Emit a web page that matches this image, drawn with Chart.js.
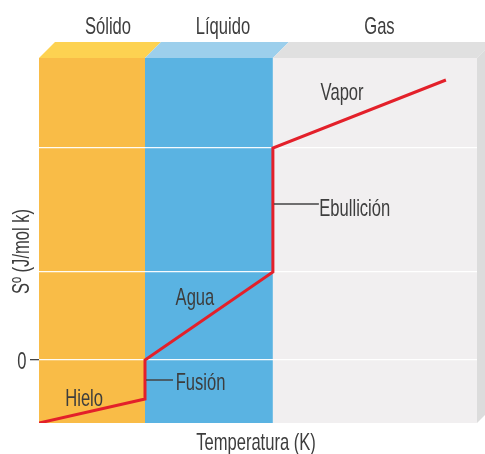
<!DOCTYPE html>
<html>
<head>
<meta charset="utf-8">
<script src="https://cdn.jsdelivr.net/npm/chart.js@4/dist/chart.umd.min.js"></script>
<style>
  body { margin: 0; background: #fff; }
  canvas { display: block; }
</style>
</head>
<body>
<canvas id="entropyChart" width="485" height="454"></canvas>
<script>
// fases y limites de temperatura (unidades arbitrarias)
const phaseNames = ["Sólido", "Líquido", "Gas"];
const phaseLimits = [0, 24.2, 53.4, 100];
const phaseFront = ["#F9BC47", "#5AB3E2", "#F1EFF0"];
const phaseTop = ["#FDD251", "#9CCFEC", "#E0E0E0"];

// curva de entropia
const curveT = [0, 24.2, 24.2, 53.4, 53.4, 92.9];
const curveS = [-63, -39, 0, 88, 212, 280];

// lineas de la reticula
const gridS = [0, 88, 212];

const FONT_SIZE = 24;
const FONT = FONT_SIZE + "px 'Liberation Sans', Arial, sans-serif";
const NARROW = 0.69;           // texto estrecho (condensado)
const CAP = 0.358 * FONT_SIZE; // mitad de la altura de mayusculas
const TEXT = "#3d3d3d";

// escribe texto condensado centrado verticalmente en y
function label(ctx, text, x, y, align) {
    ctx.save();
    ctx.translate(x, y + CAP);
    ctx.scale(NARROW, 1);
    ctx.font = FONT;
    ctx.fillStyle = TEXT;
    ctx.textAlign = align;
    ctx.textBaseline = "alphabetic";
    ctx.fillText(text, 0, 0);
    ctx.restore();
}

// bloques de fondo con efecto 3D
const bandsPlugin = {
    id: "bands",
    beforeDraw(chart) {
        const { ctx, chartArea: a, scales } = chart;
        const d = 16;
        ctx.save();
        for (let i = 0; i < phaseNames.length; i++) {
            const x0 = scales.x.getPixelForValue(phaseLimits[i]);
            const x1 = scales.x.getPixelForValue(phaseLimits[i + 1]);
            ctx.fillStyle = phaseFront[i];
            ctx.fillRect(x0, a.top, x1 - x0, a.bottom - a.top);
            ctx.fillStyle = phaseTop[i];
            ctx.beginPath();
            ctx.moveTo(x0, a.top);
            ctx.lineTo(x0 + d, a.top - d);
            ctx.lineTo(x1 + d, a.top - d);
            ctx.lineTo(x1, a.top);
            ctx.closePath();
            ctx.fill();
        }
        // lateral derecho
        ctx.fillStyle = "#DCDCDC";
        ctx.beginPath();
        ctx.moveTo(a.right, a.top);
        ctx.lineTo(a.right + d, a.top - d);
        ctx.lineTo(a.right + d, a.bottom - d);
        ctx.lineTo(a.right, a.bottom);
        ctx.closePath();
        ctx.fill();
        ctx.restore();

        // nombres de las fases
        const offs = [16, 14, 4.5];
        for (let i = 0; i < phaseNames.length; i++) {
            const mid = (phaseLimits[i] + phaseLimits[i + 1]) / 2;
            label(ctx, phaseNames[i], scales.x.getPixelForValue(mid) + offs[i], a.top - 33, "center");
        }
    },
    afterDatasetsDraw(chart) {
        const { ctx, chartArea: a, scales: { x, y } } = chart;

        // etiquetas de tramos
        label(ctx, "Hielo", x.getPixelForValue(10.3), y.getPixelForValue(-37), "center");
        label(ctx, "Agua", x.getPixelForValue(35.6), y.getPixelForValue(64), "center");
        label(ctx, "Vapor", x.getPixelForValue(69.2), y.getPixelForValue(269), "center");

        // lineas guia
        ctx.save();
        ctx.strokeStyle = "#444";
        ctx.lineWidth = 1.5;
        ctx.beginPath();
        ctx.moveTo(x.getPixelForValue(curveT[1]) + 1, y.getPixelForValue(-20));
        ctx.lineTo(x.getPixelForValue(30.6), y.getPixelForValue(-20));
        ctx.moveTo(x.getPixelForValue(curveT[3]) + 1, y.getPixelForValue(156));
        ctx.lineTo(x.getPixelForValue(63.9), y.getPixelForValue(156));
        ctx.stroke();
        ctx.restore();
        label(ctx, "Fusión", x.getPixelForValue(31.2), y.getPixelForValue(-21.5), "left");
        label(ctx, "Ebullición", x.getPixelForValue(64.0), y.getPixelForValue(153), "left");

        // etiqueta del cero
        label(ctx, "0", a.left - 12.5, y.getPixelForValue(0), "right");

        // titulos de ejes
        label(ctx, "Temperatura (K)", (a.left + a.right) / 2 - 2, a.bottom + 18, "center");
        ctx.save();
        ctx.translate(20, y.getPixelForValue(108.5));
        ctx.rotate(-Math.PI / 2);
        label(ctx, "Sº (J/mol k)", 0, 0, "center");
        ctx.restore();
    }
};

new Chart(document.getElementById("entropyChart"), {
    type: "line",
    data: {
        datasets: [{
            data: curveT.map((t, i) => ({ x: t, y: curveS[i] })),
            borderColor: "#E3202A",
            borderWidth: 3,
            pointRadius: 0,
            tension: 0,
            fill: false,
            borderJoinStyle: "miter"
        }]
    },
    options: {
        responsive: false,
        animation: false,
        layout: { padding: { left: 0, right: 8, top: 58, bottom: 0 } },
        plugins: { legend: { display: false }, tooltip: { enabled: false } },
        scales: {
            x: {
                type: "linear",
                min: 0,
                max: 100,
                grid: { display: false },
                border: { display: false },
                ticks: { display: false },
                afterFit(scale) { scale.height = 31; }
            },
            y: {
                type: "linear",
                min: -63,
                max: 302,
                afterBuildTicks(scale) {
                    scale.ticks = gridS.map(v => ({ value: v }));
                },
                grid: {
                    color: "rgba(255,255,255,0.95)",
                    lineWidth: 1.3,
                    tickLength: 9,
                    tickColor: ctx => (ctx.tick && ctx.tick.value === 0) ? "#444" : "rgba(0,0,0,0)"
                },
                border: { display: false },
                ticks: { display: false },
                afterFit(scale) { scale.width = 39; }
            }
        }
    },
    plugins: [bandsPlugin]
});
</script>
</body>
</html>
